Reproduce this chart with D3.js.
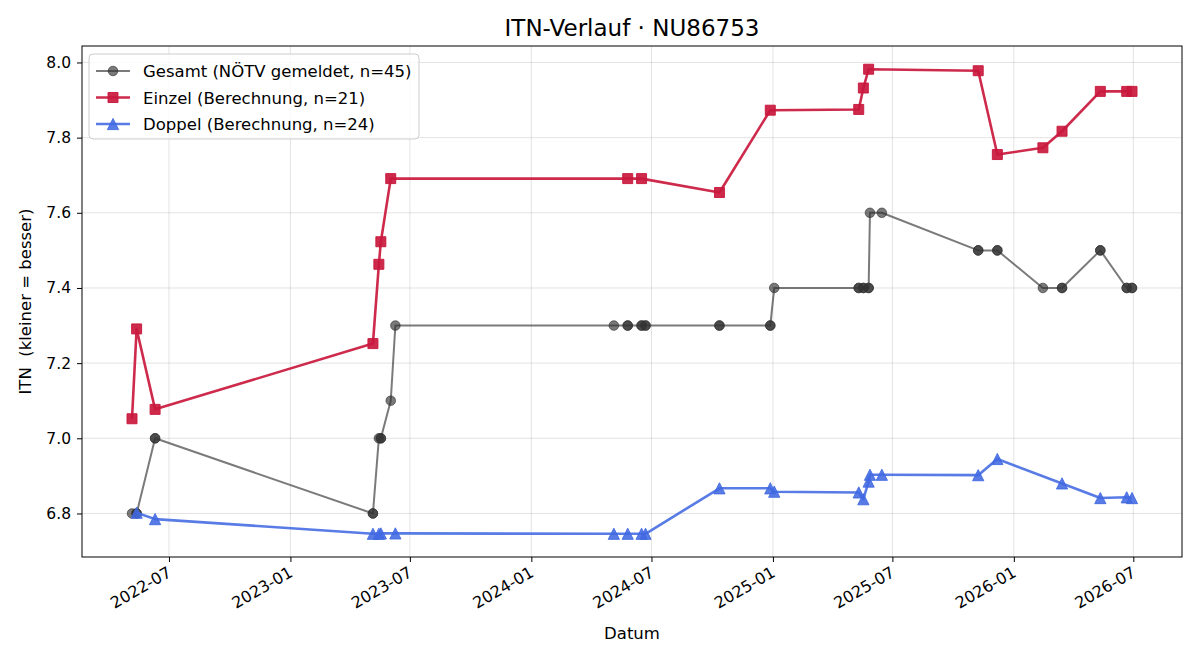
<!DOCTYPE html>
<html>
<head>
<meta charset="utf-8">
<script src="https://cdn.jsdelivr.net/npm/d3@7"></script>
<style>
  body { margin: 0; background: #fff; }
  svg { font-family: "DejaVu Sans", sans-serif; }
  .tick text { font-family: "DejaVu Sans", sans-serif; }
</style>
</head>
<body>
<svg id="chart" width="1200" height="660"></svg>
<script>
// ---- data -----------------------------------------------------------------
var gesamt_dates = [
    "2022-05-06", "2022-05-13", "2022-05-13", "2022-06-10", "2022-06-10",
    "2023-05-06", "2023-05-06", "2023-05-15", "2023-05-18", "2023-05-18",
    "2023-06-02", "2023-06-09", "2024-05-05", "2024-05-26", "2024-05-26",
    "2024-06-16", "2024-06-16", "2024-06-22", "2024-06-22", "2024-10-12",
    "2024-10-12", "2024-12-28", "2024-12-28", "2025-01-03", "2025-05-11",
    "2025-05-11", "2025-05-18", "2025-05-18", "2025-05-26", "2025-05-26",
    "2025-05-28", "2025-06-15", "2025-11-08", "2025-11-08", "2025-12-07",
    "2025-12-07", "2026-02-14", "2026-03-15", "2026-03-15", "2026-05-12",
    "2026-05-12", "2026-06-21", "2026-06-21", "2026-06-29", "2026-06-29"];
var gesamt_itn = [
    6.8, 6.8, 6.8, 7.0, 7.0,
    6.8, 6.8, 7.0, 7.0, 7.0,
    7.1, 7.3, 7.3, 7.3, 7.3,
    7.3, 7.3, 7.3, 7.3, 7.3,
    7.3, 7.3, 7.3, 7.4, 7.4,
    7.4, 7.4, 7.4, 7.4, 7.4,
    7.6, 7.6, 7.5, 7.5, 7.5,
    7.5, 7.4, 7.4, 7.4, 7.5,
    7.5, 7.4, 7.4, 7.4, 7.4];

var einzel_dates = [
    "2022-05-06", "2022-05-13", "2022-06-10", "2023-05-06", "2023-05-15",
    "2023-05-18", "2023-06-02", "2024-05-26", "2024-06-16", "2024-10-12",
    "2024-12-28", "2025-05-11", "2025-05-18", "2025-05-26", "2025-11-08",
    "2025-12-07", "2026-02-14", "2026-03-15", "2026-05-12", "2026-06-21",
    "2026-06-29"];
var einzel_itn = [
    7.052, 7.291, 7.077, 7.252, 7.463,
    7.523, 7.691, 7.691, 7.691, 7.654,
    7.873, 7.875, 7.932, 7.982, 7.978,
    7.755, 7.773, 7.817, 7.923, 7.923,
    7.923];

var doppel_dates = [
    "2022-05-13", "2022-06-10", "2023-05-06", "2023-05-15", "2023-05-18",
    "2023-06-09", "2024-05-05", "2024-05-26", "2024-06-16", "2024-06-22",
    "2024-10-12", "2024-12-28", "2025-01-03", "2025-05-11", "2025-05-18",
    "2025-05-26", "2025-05-28", "2025-06-15", "2025-11-08", "2025-12-07",
    "2026-03-15", "2026-05-12", "2026-06-21", "2026-06-29"];
var doppel_itn = [
    6.802, 6.785, 6.746, 6.746, 6.747,
    6.747, 6.746, 6.746, 6.746, 6.746,
    6.867, 6.867, 6.858, 6.856, 6.838,
    6.885, 6.903, 6.903, 6.902, 6.945,
    6.880, 6.841, 6.843, 6.841];

var y_ticks = [6.8, 7.0, 7.2, 7.4, 7.6, 7.8, 8.0];
var x_tick_labels = ["2022-07", "2023-01", "2023-07", "2024-01", "2024-07",
                     "2025-01", "2025-07", "2026-01", "2026-07"];

var series_names = ["Gesamt (NÖTV gemeldet, n=45)",
                    "Einzel (Berechnung, n=21)",
                    "Doppel (Berechnung, n=24)"];

//-----------------------------------------------------------------------------
var parse = d3.timeParse("%Y-%m-%d");
var fmt_month = d3.timeParse("%Y-%m");

function zip(dates, vals) {
    return dates.map(function(d, i) { return {date: parse(d), itn: vals[i]}; });
}

var series = [
    {name: series_names[0], data: zip(gesamt_dates, gesamt_itn), color: "#333333", op: 0.65, width: 2, marker: "circle"},
    {name: series_names[1], data: zip(einzel_dates, einzel_itn), color: "#c9183d", op: 0.92, width: 2.6, marker: "square"},
    {name: series_names[2], data: zip(doppel_dates, doppel_itn), color: "#4169e1", op: 0.88, width: 2.6, marker: "triangle"}
];

var svg = d3.select("#chart"),
    margin = {top: 46, left: 82, bottom: 103, right: 18},
    width = 1200, height = 660;

var all = [].concat(series[0].data, series[1].data, series[2].data);

// matplotlib-like 5% margins
var xext = d3.extent(all, d => d.date.getTime());
var xpad = (xext[1] - xext[0]) * 0.05;
var yext = d3.extent(all, d => d.itn);
var ypad = (yext[1] - yext[0]) * 0.05;

var x = d3.scaleTime()
    .domain([new Date(xext[0] - xpad), new Date(xext[1] + xpad)])
    .range([margin.left, width - margin.right]);

var y = d3.scaleLinear()
    .domain([yext[0] - ypad, yext[1] + ypad])
    .range([height - margin.bottom, margin.top]);

var x_ticks = x_tick_labels.map(s => fmt_month(s));

// grid
var grid = svg.append("g").attr("class", "grid");
grid.selectAll(".gx").data(x_ticks).enter().append("line")
    .attr("x1", d => x(d)).attr("x2", d => x(d))
    .attr("y1", margin.top).attr("y2", height - margin.bottom)
    .attr("stroke", "#b0b0b0").attr("stroke-opacity", 0.35).attr("stroke-width", 1);
grid.selectAll(".gy").data(y_ticks).enter().append("line")
    .attr("x1", margin.left).attr("x2", width - margin.right)
    .attr("y1", d => y(d)).attr("y2", d => y(d))
    .attr("stroke", "#b0b0b0").attr("stroke-opacity", 0.35).attr("stroke-width", 1);

// axes
var xAxis = svg.append("g")
    .attr("transform", `translate(0,${height - margin.bottom})`)
    .call(d3.axisBottom(x).tickValues(x_ticks).tickFormat(d3.timeFormat("%Y-%m")).tickSize(5).tickSizeOuter(0));
xAxis.select(".domain").remove();
xAxis.selectAll("text")
    .style("font-size", "16px")
    .attr("fill", "#000")
    .style("text-anchor", "end")
    .attr("transform", "translate(-6,3) rotate(-30)")
    .attr("dy", "0.75em")
    .attr("y", 6)
    .attr("x", 0);

var yAxis = svg.append("g")
    .attr("transform", `translate(${margin.left},0)`)
    .call(d3.axisLeft(y).tickValues(y_ticks).tickFormat(d3.format(".1f")).tickSize(5).tickSizeOuter(0));
yAxis.select(".domain").remove();
yAxis.selectAll("text").style("font-size", "15.5px").attr("fill", "#000").attr("x", -11);

// frame
svg.append("rect")
    .attr("x", margin.left).attr("y", margin.top)
    .attr("width", width - margin.left - margin.right)
    .attr("height", height - margin.top - margin.bottom)
    .attr("fill", "none").attr("stroke", "#000").attr("stroke-width", 1);

// markers
function marker_path(kind) {
    if (kind === "square") return "M-5,-5H5V5H-5Z";
    if (kind === "triangle") return "M0,-5.6L5.6,5.6L-5.6,5.6Z";
    return d3.symbol(d3.symbolCircle, 72)();
}

var line = d3.line().x(d => x(d.date)).y(d => y(d.itn));

series.forEach(function(s) {
    var g = svg.append("g");
    g.append("path")
        .datum(s.data)
        .attr("d", line)
        .attr("fill", "none")
        .attr("stroke", s.color)
        .attr("stroke-opacity", s.op)
        .attr("stroke-width", s.width)
        .attr("stroke-linejoin", "round");
    g.selectAll(".mk").data(s.data).enter().append("path")
        .attr("d", marker_path(s.marker))
        .attr("transform", d => `translate(${x(d.date)},${y(d.itn)})`)
        .attr("fill", s.color)
        .attr("fill-opacity", s.op)
        .attr("stroke", s.color)
        .attr("stroke-opacity", s.op)
        .attr("stroke-width", 1);
});

// titles
svg.append("text")
    .attr("x", (margin.left + width - margin.right) / 2).attr("y", 36)
    .attr("text-anchor", "middle").attr("font-size", "23px")
    .text("ITN-Verlauf · NU86753");
svg.append("text")
    .attr("x", (margin.left + width - margin.right) / 2).attr("y", 639)
    .attr("text-anchor", "middle").attr("font-size", "16.5px")
    .text("Datum");
svg.append("text")
    .attr("transform", `translate(31,${(margin.top + height - margin.bottom) / 2}) rotate(-90)`)
    .attr("text-anchor", "middle").attr("font-size", "16.5px")
    .style("white-space", "pre")
    .text("ITN  (kleiner = besser)");

// legend
var lg = svg.append("g").attr("transform", "translate(89,54)");
lg.append("rect")
    .attr("width", 330).attr("height", 85).attr("rx", 4)
    .attr("fill", "#fff").attr("fill-opacity", 0.8)
    .attr("stroke", "#cccccc").attr("stroke-width", 1);
series.forEach(function(s, i) {
    var row = lg.append("g").attr("transform", `translate(0,${17 + i * 26.5})`);
    row.append("line")
        .attr("x1", 7).attr("x2", 41)
        .attr("stroke", s.color).attr("stroke-opacity", s.op).attr("stroke-width", s.width);
    row.append("path")
        .attr("d", marker_path(s.marker))
        .attr("transform", "translate(24,0)")
        .attr("fill", s.color).attr("fill-opacity", s.op)
        .attr("stroke", s.color).attr("stroke-opacity", s.op);
    row.append("text")
        .attr("x", 54).attr("y", 6)
        .attr("font-size", "16.5px")
        .text(s.name);
});
</script>
</body>
</html>
